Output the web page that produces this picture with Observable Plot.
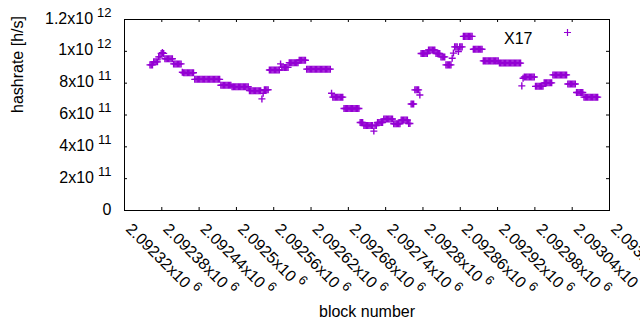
<!DOCTYPE html>
<html>
<head>
<meta charset="utf-8">
<script src="https://cdn.jsdelivr.net/npm/d3@7"></script>
<script src="https://cdn.jsdelivr.net/npm/@observablehq/plot@0.6"></script>
<style>
  html, body { margin: 0; padding: 0; background: #fff; }
  #chart { width: 640px; height: 330px; }
</style>
</head>
<body>
<div id="chart"></div>
<script>
// ---- data ----
const block = [
  2092361,2092363,2092365,
  2092367,2092369,2092371,2092373,
  2092375,2092377,
  2092379,2092381,2092383,
  2092385,2092387,2092389,2092391,2092393,2092395,2092397,
  2092399,2092401,2092403,2092405,2092407,2092409,2092411,
  2092413,2092415,2092417,2092419,2092421,2092423,2092425,2092427,2092429,2092431,
  2092433,2092435,2092437,2092439,2092441,2092443,2092445,2092447,2092449,2092451,2092453,
  2092455,2092457,2092459,2092461,2092463,2092465,2092467,2092469,2092471,2092473,
  2092475,2092477,2092479,2092481,2092483,2092485,2092487,2092489,2092491,
  2092493,2092495,2092497,2092499,2092501,2092503,2092505,
  2092507,2092509,2092511,2092513,2092515,2092517,2092519,
  2092521,2092523,2092525,2092527,2092529,2092531,2092533,2092535,2092537,2092539,
  2092541,2092543,2092545,2092547,2092549,2092551,
  2092553,2092555,2092557,2092559,2092561,2092563,2092565,2092567,2092569,
  2092571,2092573,2092575,2092577,2092579,2092581,2092583,
  2092585,2092587,2092589,2092591,2092593,2092595,2092597,2092599,
  2092601,2092603,2092605,2092607,2092609,2092611,
  2092613,2092615,2092617,2092619,2092621,2092623,2092625,2092627,2092629,2092631,
  2092633,2092635,2092637,2092639,2092641,2092643,2092645,2092647,2092649,2092651,
  2092653,2092655,2092657,2092659,2092661,2092663,2092665,2092667,2092669,2092671,
  2092673,2092675,2092677,2092679,2092681,2092683,2092685,
  2092687,2092689,2092691,2092693,2092695,2092697,
  2092699,2092701,2092703,
  2092705,2092707,2092709,2092711,2092713,2092715,2092717,2092719,2092721,2092723,2092725,
  2092727,2092729,2092731,2092733,2092735,
  2092737,2092739,2092741,2092743,2092745,2092747,2092749,2092751,
  2092753,2092755,2092757,2092759,2092761,2092763,
  2092765,2092767,2092769,2092771,2092773,2092775,
  2092777,2092779,2092781,2092783,2092785,
  2092787,2092789,2092791,2092793,2092795,
  2092797,2092799,2092801,2092803,2092805,2092807,
  2092809,2092811,2092813,2092815,2092817,2092819,
  2092821,2092823,2092825,2092827,2092829,2092831,2092833,2092835,
  2092837,2092839,2092841,2092843,2092845,2092847,2092849,
  2092851,2092853,2092855,2092857,2092859,2092861,2092863,
  2092865,2092867,2092869,2092871,2092873,2092875,2092877,2092879,
  2092881,2092883,2092885,2092887,2092889,2092891,2092893,2092895,
  2092897,2092899,2092901,2092903,2092905,2092907,2092909,2092911,2092913,2092915,2092917,2092919,2092921,
  2092923,2092925,2092927,2092929,2092931,2092933,2092935,2092937,2092939,
  2092941,2092943,2092945,2092947,2092949,2092951,2092953,2092955,2092957,
  2092959,2092961,
  2092963,2092965,2092967,2092969,2092971,2092973,2092975,2092977,2092979,
  2092981,2092983,2092985,2092987,2092989,2092991,2092993,
  2092995,2092997,2092999,2093001,2093003,2093005,2093007,
  2093009,2093011,2093013,2093015,2093017,2093019,2093021,2093023,2093025,2093027,2093029,2093031,
  2093033,2093035,2093037,2093039,2093041,2093043,2093045,
  2093047,2093049,2093051,2093053,2093055,2093057,
  2093059,2093061,2093063,2093065,2093067,2093069,2093071,2093073,2093075,2093077,2093079,2093081
];

// hashrate in GH/s (x 1e9 h/s), same order as block
const hashrateGH = [
  915,915,915,
  934,934,934,934,
  965,965,
  987,992,987,
  953,953,953,953,953,953,953,
  921,921,921,921,921,921,921,
  869,865,865,865,865,865,865,865,865,865,
  824,824,824,824,824,824,824,824,824,824,824,
  824,824,824,824,824,824,824,824,824,824,
  787,787,787,787,787,787,787,787,787,
  778,778,778,778,778,778,778,
  778,778,778,778,778,778,778,
  753,753,753,753,753,753,753,753,753,753,
  701,737,759,759,759,759,
  883,883,883,883,883,883,883,883,883,
  921,899,899,899,899,899,899,
  928,928,928,928,928,928,928,928,
  944,944,944,944,944,944,
  888,888,888,888,888,888,888,888,888,888,
  888,888,888,888,888,888,888,888,888,888,
  737,712,712,712,712,712,712,712,712,712,
  641,641,641,641,641,641,641,
  641,641,641,641,641,641,
  553,553,553,
  534,534,534,534,534,534,534,534,499,534,534,
  553,553,553,553,553,
  575,575,575,575,575,575,575,575,
  545,545,545,545,545,545,
  569,569,569,569,569,569,
  547,547,669,669,669,
  758,758,758,758,726,
  986,986,986,986,986,986,
  1009,1009,1009,1009,1009,1009,
  986,986,986,986,965,965,965,965,
  915,915,915,915,915,957,989,
  1028,1028,1028,999,1028,1028,1028,
  1094,1094,1094,1094,1094,1094,1094,1094,
  1013,1013,1013,1013,1013,1013,1013,1013,
  940,940,940,940,940,940,940,940,940,940,940,940,940,
  926,926,926,926,926,926,926,926,926,
  926,926,926,926,926,926,926,926,926,
  783,831,
  839,839,839,839,839,839,839,839,839,
  780,780,780,780,780,780,780,
  802,802,802,802,802,802,802,
  852,852,852,852,852,852,852,852,852,852,852,852,
  795,795,795,795,795,795,795,
  741,741,741,741,741,741,
  712,712,712,712,712,712,712,712,712,712,712,712
];

const seriesName = "X17";

const xTickValues = [2092320, 2092380, 2092440, 2092500, 2092560, 2092620, 2092680,
                     2092740, 2092800, 2092860, 2092920, 2092980, 2093040, 2093100];
const xTickLabels = ["2.09232x10^6", "2.09238x10^6", "2.09244x10^6", "2.0925x10^6",
                     "2.09256x10^6", "2.09262x10^6", "2.09268x10^6", "2.09274x10^6",
                     "2.0928x10^6", "2.09286x10^6", "2.09292x10^6", "2.09298x10^6",
                     "2.09304x10^6", "2.0931x10^6"];

const yTickValues = [0, 2e11, 4e11, 6e11, 8e11, 1e12, 1.2e12];
const yTickLabels = ["0", "2x10^11", "4x10^11", "6x10^11", "8x10^11", "1x10^12", "1.2x10^12"];

const xTitle = "block number";
const yTitle = "hashrate [h/s]";

// ---- build table ----
const n = Math.min(block.length, hashrateGH.length);
const points = [];
for (let i = 0; i < n; i++) points.push({block: block[i], hashrate: hashrateGH[i] * 1e9});

const purple = "#9400d3";
const W = 640, H = 330;
const mL = 124, mR = 31, mT = 19, mB = 120;
const innerW = W - mL - mR, innerH = H - mT - mB;
const tick = 3;
const plusR = 2.4; // gives +/-3.5px arms with d3.symbolPlus

const chart = Plot.plot({
  width: W,
  height: H,
  marginLeft: mL,
  marginRight: mR,
  marginTop: mT,
  marginBottom: mB,
  style: {fontFamily: "'Liberation Sans', Arial, sans-serif", fontSize: "16px", background: "#fff", color: "#000"},
  x: {type: "linear", domain: [xTickValues[0], xTickValues[xTickValues.length - 1]], axis: null},
  y: {type: "linear", domain: [yTickValues[0], yTickValues[yTickValues.length - 1]], axis: null},
  marks: [
    Plot.frame({stroke: "#000", strokeWidth: 1}),
    // inward ticks (bottom, top, left, right)
    Plot.tickX(xTickValues, {x: d => d, stroke: "#000", insetTop: innerH - tick}),
    Plot.tickX(xTickValues, {x: d => d, stroke: "#000", insetBottom: innerH - tick}),
    Plot.tickY(yTickValues, {y: d => d, stroke: "#000", insetRight: innerW - tick}),
    Plot.tickY(yTickValues, {y: d => d, stroke: "#000", insetLeft: innerW - tick}),
    // tick labels
    Plot.text(xTickValues, {x: d => d, frameAnchor: "bottom", text: (d, i) => xTickLabels[i],
      rotate: 45, textAnchor: "start", lineAnchor: "bottom", dx: 0.5, dy: 19.5, fill: "#000"}),
    Plot.text(yTickValues, {y: d => d, frameAnchor: "left", text: (d, i) => yTickLabels[i],
      textAnchor: "end", dx: -13, dy: -1, fill: "#000"}),
    // axis titles
    Plot.text([yTitle], {frameAnchor: "left", text: d => d, rotate: -90, dx: -107, dy: -2, fill: "#000"}),
    Plot.text([xTitle], {frameAnchor: "bottom", text: d => d, dy: 106, fill: "#000"}),
    // data
    Plot.dot(points, {x: "block", y: "hashrate", symbol: "plus", r: plusR, stroke: purple, strokeWidth: 1.4}),
    // key
    Plot.text([seriesName], {frameAnchor: "top-right", text: d => d, textAnchor: "end", dx: -77, dy: 13, fill: "#000"}),
    Plot.dot([seriesName], {frameAnchor: "top-right", dx: -42, dy: 13, symbol: "plus", r: plusR, stroke: purple, strokeWidth: 1.2})
  ]
});

// superscripts: "a^b" -> a + raised b
d3.select(chart).selectAll("text").each(function () {
  const t = this.textContent;
  const k = t.indexOf("^");
  if (k < 0) return;
  const base = t.slice(0, k), exp = t.slice(k + 1);
  const sel = d3.select(this);
  sel.text(base);
  sel.append("tspan").attr("dx", 4).attr("dy", -7).attr("font-size", 13).text(exp);
});

document.getElementById("chart").appendChild(chart);
</script>
</body>
</html>
